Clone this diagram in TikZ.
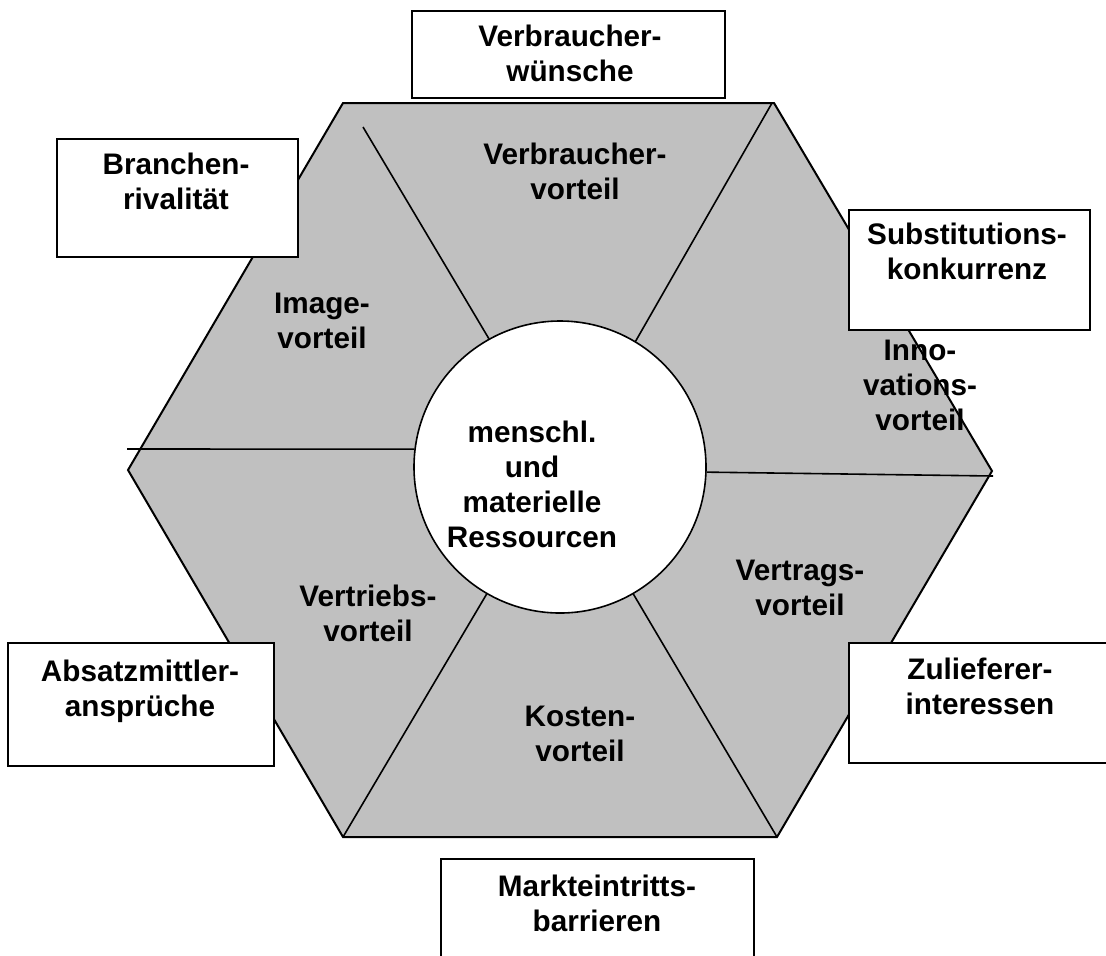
\documentclass[tikz,border=0pt]{standalone}
\usepackage{fontspec}
\setmainfont{Liberation Sans}
\definecolor{hexgray}{RGB}{192,192,192}
\begin{document}
\begin{tikzpicture}[x=0.5pt,y=-0.5pt,
  lbl/.style={font=\fontsize{14.85}{17.5}\selectfont\bfseries, align=center, inner sep=0pt, anchor=north},
  box/.style={draw, line width=1pt, fill=white, inner sep=0pt, anchor=north west, rectangle},
  divider/.style={line width=0.8pt}]
\useasboundingbox (0,0) rectangle (1106,955);
\clip (0,0) rectangle (1106,955);
\fill[white] (0,0) rectangle (1106,955);
% hexagon
\draw[line width=1pt, fill=hexgray, line join=miter]
  (343,103) -- (774,103) -- (992,471) -- (777,837) -- (343,837) -- (128,470) -- cycle;
% central circle
\node[circle, draw, line width=0.8pt, fill=white, minimum size=146pt, inner sep=0pt] (c) at (560,467) {};
% dividers
\coordinate (tl) at (363,127);
\coordinate (tr) at (772,103);
\coordinate (rr) at (993,476);
\coordinate (br) at (777,837);
\coordinate (bl) at (343,837);
\coordinate (ll) at (127,449);
\draw[divider] (tl) -- (c.119);
\draw[divider] (tr) -- (c.59);
\draw[divider] (c.358) -- (rr);
\draw[divider] (c.300) -- (br);
\draw[divider] (c.240) -- (bl);
\draw[divider] (ll) -- (c.173);
% labels in the hexagon
\node[lbl] (ctr) at (532,421) {menschl.\\und\\materielle\\Ressourcen};
\node[lbl] (vv) at (575,143) {Verbraucher-\\vorteil};
\node[lbl] (iv) at (322,293) {Image-\\vorteil};
\node[lbl] (inv) at (920,340) {Inno-\\vations-\\vorteil};
\node[lbl] (vtv) at (800,560) {Vertrags-\\vorteil};
\node[lbl] (vbv) at (368,585) {Vertriebs-\\vorteil};
\node[lbl] (kv) at (580,706) {Kosten-\\vorteil};
% outer boxes
\node[box, minimum width=156.5pt, minimum height=43.5pt] (bw) at (411,10) {};
\node[box, minimum width=120.5pt, minimum height=59pt] (bb) at (56,138) {};
\node[box, minimum width=120.5pt, minimum height=60pt] (bs) at (848,209) {};
\node[box, minimum width=133pt, minimum height=61.5pt] (ba) at (7,642) {};
\node[box, minimum width=150pt, minimum height=60pt] (bz) at (848,642) {};
\node[box, minimum width=156.5pt, minimum height=75pt] (bm) at (440,858) {};
\node[lbl] (tw) at (570,25) {Verbraucher-\\wünsche};
\node[lbl] (tb) at (176,153) {Branchen-\\rivalität};
\node[lbl] (ts) at (967,223) {Substitutions-\\konkurrenz};
\node[lbl] (ta) at (140,660) {Absatzmittler-\\ansprüche};
\node[lbl] (tz) at (980,658) {Zulieferer-\\interessen};
\node[lbl] (tm) at (597,875) {Markteintritts-\\barrieren};
\end{tikzpicture}
\end{document}
